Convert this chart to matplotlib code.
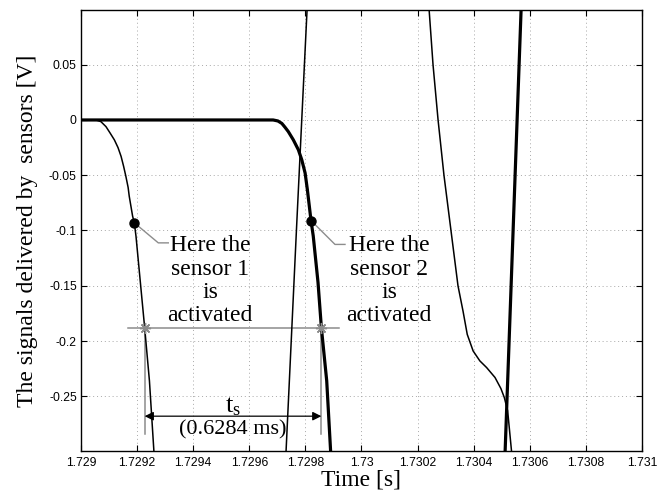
import numpy as np
import matplotlib
matplotlib.use("Agg")
import matplotlib.pyplot as plt

nan = np.nan

# sensor 1 (thin curve), NaN separates pieces that leave the window
s1_t = [1.729000, 1.729043, 1.729057, 1.729071, 1.729089, 1.729103, 1.729119,
        1.729132, 1.729143, 1.729152, 1.729160, 1.729168, 1.729172, 1.729178,
        1.729184, 1.729190, 1.729196, 1.729227, 1.729244, 1.729260, nan,
        1.729731, 1.729768, 1.729806, nan,
        1.730241, 1.730255, 1.730273, 1.730294, 1.730319, 1.730344, 1.730362,
        1.730377, 1.730398, 1.730422, 1.730446, 1.730476, 1.730497, 1.730509,
        1.730521, 1.730535]
s1_v = [0.0, 0.0, -0.0003, -0.0015, -0.006, -0.0115, -0.018,
        -0.025, -0.033, -0.042, -0.051, -0.061, -0.069, -0.078,
        -0.087, -0.093, -0.105, -0.188, -0.236, -0.300, nan,
        -0.300, -0.100, 0.100, nan,
        0.100, 0.050, 0.000, -0.050, -0.100, -0.150, -0.173,
        -0.194, -0.209, -0.218, -0.224, -0.233, -0.243, -0.251,
        -0.263, -0.300]

# sensor 2 (thick curve)
s2_t = [1.729000, 1.729685, 1.729702, 1.729716, 1.729727, 1.729739, 1.729757,
        1.729775, 1.729787, 1.729799, 1.729807, 1.729814, 1.729820, 1.729828,
        1.729845, 1.729857, 1.729876, 1.729890, nan,
        1.730512, 1.730569]
s2_v = [0.0, 0.0, -0.0009, -0.0031, -0.0065, -0.0105, -0.018,
        -0.027, -0.036, -0.048, -0.063, -0.078, -0.091, -0.105,
        -0.147, -0.188, -0.236, -0.300, nan,
        -0.300, 0.100]

# activation points and threshold crossings
dot_t = [1.729190, 1.729820]
dot_v = [-0.093, -0.091]
cross_t = [1.729227, 1.729857]
cross_v = -0.188
ts_ms = 0.6284

xticks = [1.729, 1.7292, 1.7294, 1.7296, 1.7298, 1.73, 1.7302, 1.7304, 1.7306, 1.7308, 1.731]
xticklabels = ['1.729', '1.7292', '1.7294', '1.7296', '1.7298', '1.73',
               '1.7302', '1.7304', '1.7306', '1.7308', '1.731']
yticks = [-0.25, -0.2, -0.15, -0.1, -0.05, 0, 0.05]
yticklabels = ['-0.25', '-0.2', '-0.15', '-0.1', '-0.05', '0', '0.05']

serif = 'Liberation Serif'
sans = 'Liberation Sans'
gray = '#8c8c8c'

fig = plt.figure(figsize=(6.59, 4.95), dpi=100)
ax = fig.add_axes([0.1229, 0.0889, 0.8513, 0.8909])

ax.plot(s1_t, s1_v, color='black', lw=1.1, zorder=3)
ax.plot(s2_t, s2_v, color='black', lw=2.3, zorder=3)

# threshold line, crossings and the ts arrow
ax.plot([1.729168, 1.729920], [cross_v, cross_v], color=gray, lw=1.1, zorder=2)
for t in cross_t:
    ax.plot([t, t], [cross_v, -0.284], color=gray, lw=1.1, zorder=2)
ax.plot(cross_t, [cross_v] * 2, ls='none', marker=(8, 2, 0), ms=8,
        mec=gray, mew=1.0, zorder=4)
ax.annotate('', xy=(cross_t[1], -0.268), xytext=(cross_t[0], -0.268),
            arrowprops=dict(arrowstyle='<|-|>', color='black', lw=0.9,
                            mutation_scale=13, shrinkA=0, shrinkB=0))
mid = (cross_t[0] + cross_t[1]) / 2
ax.text(mid, -0.2645, r'$\mathregular{t_s}$', ha='center', va='baseline',
        fontsize=19, family=serif)
ax.text(mid, -0.280, '(%.4f ms)' % ts_ms, ha='center', va='center',
        fontsize=16, family=serif)

# activation dots with leader lines and labels
ax.plot(dot_t, dot_v, ls='none', marker='o', ms=6.5, color='black', zorder=5)
ax.plot([dot_t[0], 1.7292756, 1.7293112], [dot_v[0], -0.1112, -0.1112],
        color=gray, lw=1.0, zorder=2)
ax.plot([dot_t[1], 1.7299055, 1.7299412], [dot_v[1], -0.1126, -0.1126],
        color=gray, lw=1.0, zorder=2)
ax.text(1.7294599, -0.1822, 'Here the\nsensor 1\nis\nactivated', ha='center',
        va='baseline', multialignment='center', fontsize=17, family=serif,
        linespacing=1.15)
ax.text(1.7300980, -0.1822, 'Here the\nsensor 2\nis\nactivated', ha='center',
        va='baseline', multialignment='center', fontsize=17, family=serif,
        linespacing=1.15)

ax.set_xlim(1.729, 1.731)
ax.set_ylim(-0.2995, 0.0995)
ax.set_xticks(xticks)
ax.set_xticklabels(xticklabels, family=sans, fontsize=8.7)
ax.set_yticks(yticks)
ax.set_yticklabels(yticklabels, family=sans, fontsize=8.7)
ax.tick_params(direction='in', length=4, width=0.8, top=True, right=True)
ax.tick_params(axis='x', pad=4)
ax.tick_params(axis='y', pad=3)
ax.grid(True, color='#a8a8a8', ls=(0, (1, 3)), lw=0.7)
for sp in ax.spines.values():
    sp.set_linewidth(1.0)

ax.set_xlabel('Time [s]', family=serif, fontsize=17, labelpad=1)
ax.set_ylabel('The signals delivered by  sensors [V]', family=serif,
              fontsize=17, labelpad=8)

fig.savefig('out.png', dpi=100)
